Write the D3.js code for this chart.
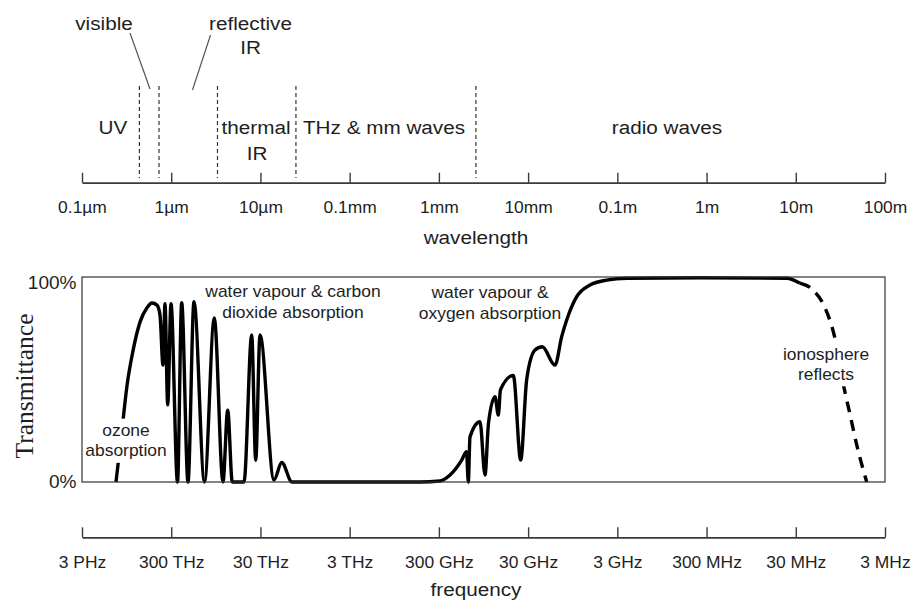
<!DOCTYPE html>
<html><head><meta charset="utf-8">
<script src="https://cdn.jsdelivr.net/npm/d3@7"></script>
<style>
body{margin:0;background:#fff;}
svg text{font-family:"Liberation Sans",Arial,sans-serif;fill:#1e1e1e;}
</style></head><body>
<svg id="c" width="912" height="601"></svg>
<script>
// ---------- data ----------
const wavelengthTicksUm = [0.1, 1, 10, 100, 1000, 1e4, 1e5, 1e6, 1e7, 1e8];
const wavelengthLabels = ["0.1\u00b5m","1\u00b5m","10\u00b5m","0.1mm","1mm","10mm","0.1m","1m","10m","100m"];
const frequencyTicksHz = [3e15, 3e14, 3e13, 3e12, 3e11, 3e10, 3e9, 3e8, 3e7, 3e6];
const frequencyLabels = ["3 PHz","300 THz","30 THz","3 THz","300 GHz","30 GHz","3 GHz","300 MHz","30 MHz","3 MHz"];
const transmittanceTicks = [0, 100];
const bandBoundariesUm = [0.44, 0.73, 3.3, 25, 2600];

// measured atmospheric transmittance (solid part), wavelength in µm and transmittance in %
const solidWavelengthUm = [
  0.2405, 0.2667, 0.288, 0.3195, 0.3729, 0.4468, 0.5354, 0.6091, 0.693, 0.7485,
  0.8088, 0.8518, 0.9131, 0.9943, 1.176, 1.31, 1.542, 1.8, 2.36, 3.04,
  3.804, 4.295, 4.837, 6.542, 7.98, 8.85, 9.886, 14.19, 17.31, 22.58,
  614.2, 1029, 1332, 1801, 2039, 2136, 2232, 2889, 3287, 3597,
  4255, 4634, 4903, 6823, 8259, 9643, 11950, 14420, 20010, 23790,
  27070, 35040, 49390, 76010, 127400, 844700, 7912000, 11150000
];
const solidTransmittancePct = [
  0, 17, 30, 47, 64, 78, 85, 87.3, 86.3, 81.5,
  57, 87, 37.6, 87, 0, 87.5, 0, 88, 0, 80,
  0, 35, 0, 0, 71.7, 10.6, 71.7, 1, 9.5, 0,
  0, 0.5, 3.4, 10.7, 14.8, 0, 22, 29.4, 3.4, 28.6,
  41.6, 32.7, 45, 52, 10.7, 50, 64.4, 66, 57, 70.9,
  79, 90.4, 96.1, 98.5, 99.4, 99.6, 99.4, 97
];
// ionospheric reflection (dashed part)
const dashedWavelengthUm = [11150000, 15720000, 21260000, 27520000, 34720000, 40530000, 48270000, 62370000];
const dashedTransmittancePct = [97, 93.5, 85, 70, 46, 33, 18, 0];

const bandLabels = ["UV", "thermal", "IR", "THz & mm waves", "radio waves"];
const calloutLabels = ["visible", "reflective", "IR"];
const noteCO2 = ["water vapour & carbon", "dioxide absorption"];
const noteO2 = ["water vapour &", "oxygen absorption"];
const noteO3 = ["ozone", "absorption"];
const noteIono = ["ionosphere", "reflects"];

// ---------- layout ----------
const SX = 1.09;
const svg = d3.select("#c");
const L = 82, R = 885, TOP = 277, BOT = 482;
const xW = d3.scaleLog().domain([0.1, 1e8]).range([L, R]);
const xF = d3.scaleLog().domain([3e15, 3e6]).range([L, R]);
const y = d3.scaleLinear().domain([0, 100]).range([BOT, TOP]);

function label(g, x, yy, s, size, anchor) {
  return g.append("text")
    .attr("transform", `translate(${x},${yy}) scale(${SX},1)`)
    .attr("text-anchor", anchor || "middle")
    .style("font-size", size + "px")
    .text(s);
}

// ---------- top wavelength axis ----------
const axisTopY = 182.7;
const gTop = svg.append("g").attr("transform", `translate(0,${axisTopY})`)
  .call(d3.axisBottom(xW).tickValues(wavelengthTicksUm)
    .tickFormat(d => wavelengthLabels[wavelengthTicksUm.indexOf(d)])
    .tickSizeInner(-10).tickSizeOuter(0));
gTop.attr("font-family", null).attr("font-size", null);
gTop.select(".domain").attr("stroke", "#3a3a3a").attr("stroke-width", 1.7);
gTop.selectAll(".tick line").attr("stroke", "#3a3a3a").attr("stroke-width", 1.4);
gTop.selectAll(".tick text").attr("y", 30.8).attr("dy", null)
  .attr("transform", `scale(${SX},1)`).style("font-size", "16px").attr("fill", null);

// band boundaries
svg.append("g").selectAll("line").data(bandBoundariesUm).join("line")
  .attr("x1", d => xW(d)).attr("x2", d => xW(d))
  .attr("y1", 86).attr("y2", 178)
  .attr("stroke", "#333").attr("stroke-width", 1.2).attr("stroke-dasharray", "4,3");

const gBand = svg.append("g");
label(gBand, 113, 134, bandLabels[0], 19);
label(gBand, 256, 134, bandLabels[1], 19);
label(gBand, 257, 159.5, bandLabels[2], 19);
label(gBand, 384, 134, bandLabels[3], 19);
label(gBand, 667, 134, bandLabels[4], 19);
label(gBand, 104, 29.5, calloutLabels[0], 19);
label(gBand, 250.5, 29.5, calloutLabels[1], 19);
label(gBand, 250.5, 53.5, calloutLabels[2], 19);
gBand.append("line").attr("x1", 130).attr("y1", 33).attr("x2", 150).attr("y2", 89)
  .attr("stroke", "#555").attr("stroke-width", 1.2);
gBand.append("line").attr("x1", 210.5).attr("y1", 35).attr("x2", 192.5).attr("y2", 90)
  .attr("stroke", "#555").attr("stroke-width", 1.2);

label(svg, 476, 244, "wavelength", 19);

// ---------- transmittance chart ----------
const line = d3.line().x(d => xW(d[0])).y(d => y(d[1])).curve(d3.curveMonotoneX);
const solid = solidWavelengthUm.map((w, i) => [w, solidTransmittancePct[i]]);
const dashed = dashedWavelengthUm.map((w, i) => [w, dashedTransmittancePct[i]]);

svg.append("path").attr("d", line(solid)).attr("fill", "none")
  .attr("stroke", "#000").attr("stroke-width", 3.4).attr("stroke-linejoin", "round");
svg.append("path").attr("d", line(dashed)).attr("fill", "none")
  .attr("stroke", "#000").attr("stroke-width", 3.4).attr("stroke-dasharray", "11,8");

function note(lines, cx, y0, gap, bg) {
  const g = svg.append("g");
  const rect = bg ? g.append("rect").attr("fill", "#fff") : null;
  lines.forEach((s, i) => label(g, cx, y0 + i * gap, s, 16));
  if (rect) {
    const b = g.node().getBBox();
    rect.attr("x", b.x - 3).attr("y", b.y - 3).attr("width", b.width + 6).attr("height", b.height + 6);
  }
}
note(noteCO2, 293, 296.5, 21.5, false);
note(noteO2, 490, 297.5, 21, false);
note(noteO3, 126, 436, 20, true);
note(noteIono, 826, 359.5, 20, true);

svg.append("rect").attr("x", L).attr("y", TOP).attr("width", R - L).attr("height", BOT - TOP)
  .attr("fill", "none").attr("stroke", "#333").attr("stroke-width", 1.2);

const gY = svg.append("g").attr("transform", `translate(${L},0)`)
  .call(d3.axisLeft(y).tickValues(transmittanceTicks).tickFormat(d => d + "%").tickSize(0).tickPadding(5));
gY.attr("font-family", null).attr("font-size", null);
gY.select(".domain").remove();
gY.selectAll(".tick text").style("font-size", "17.5px").attr("fill", null)
  .attr("transform", `scale(${SX},1)`)
  .attr("dy", d => d === 100 ? "0.65em" : "0.32em");

svg.append("text").attr("transform", "translate(33,386) rotate(-90)")
  .attr("text-anchor", "middle")
  .style("font-family", "'Liberation Serif','Times New Roman',serif")
  .style("font-size", "25.5px").text("Transmittance");

// ---------- bottom frequency axis ----------
const axisBotY = 537.3;
const gBot = svg.append("g").attr("transform", `translate(0,${axisBotY})`)
  .call(d3.axisBottom(xF).tickValues(frequencyTicksHz)
    .tickFormat(d => frequencyLabels[frequencyTicksHz.indexOf(d)])
    .tickSizeInner(-10).tickSizeOuter(0));
gBot.attr("font-family", null).attr("font-size", null);
gBot.select(".domain").attr("stroke", "#3a3a3a").attr("stroke-width", 1.7);
gBot.selectAll(".tick line").attr("stroke", "#3a3a3a").attr("stroke-width", 1.4);
gBot.selectAll(".tick text").attr("y", 30.8).attr("dy", null)
  .attr("transform", `scale(${SX},1)`).style("font-size", "16px").attr("fill", null);

label(svg, 476, 595.5, "frequency", 19);
</script>
</body></html>
